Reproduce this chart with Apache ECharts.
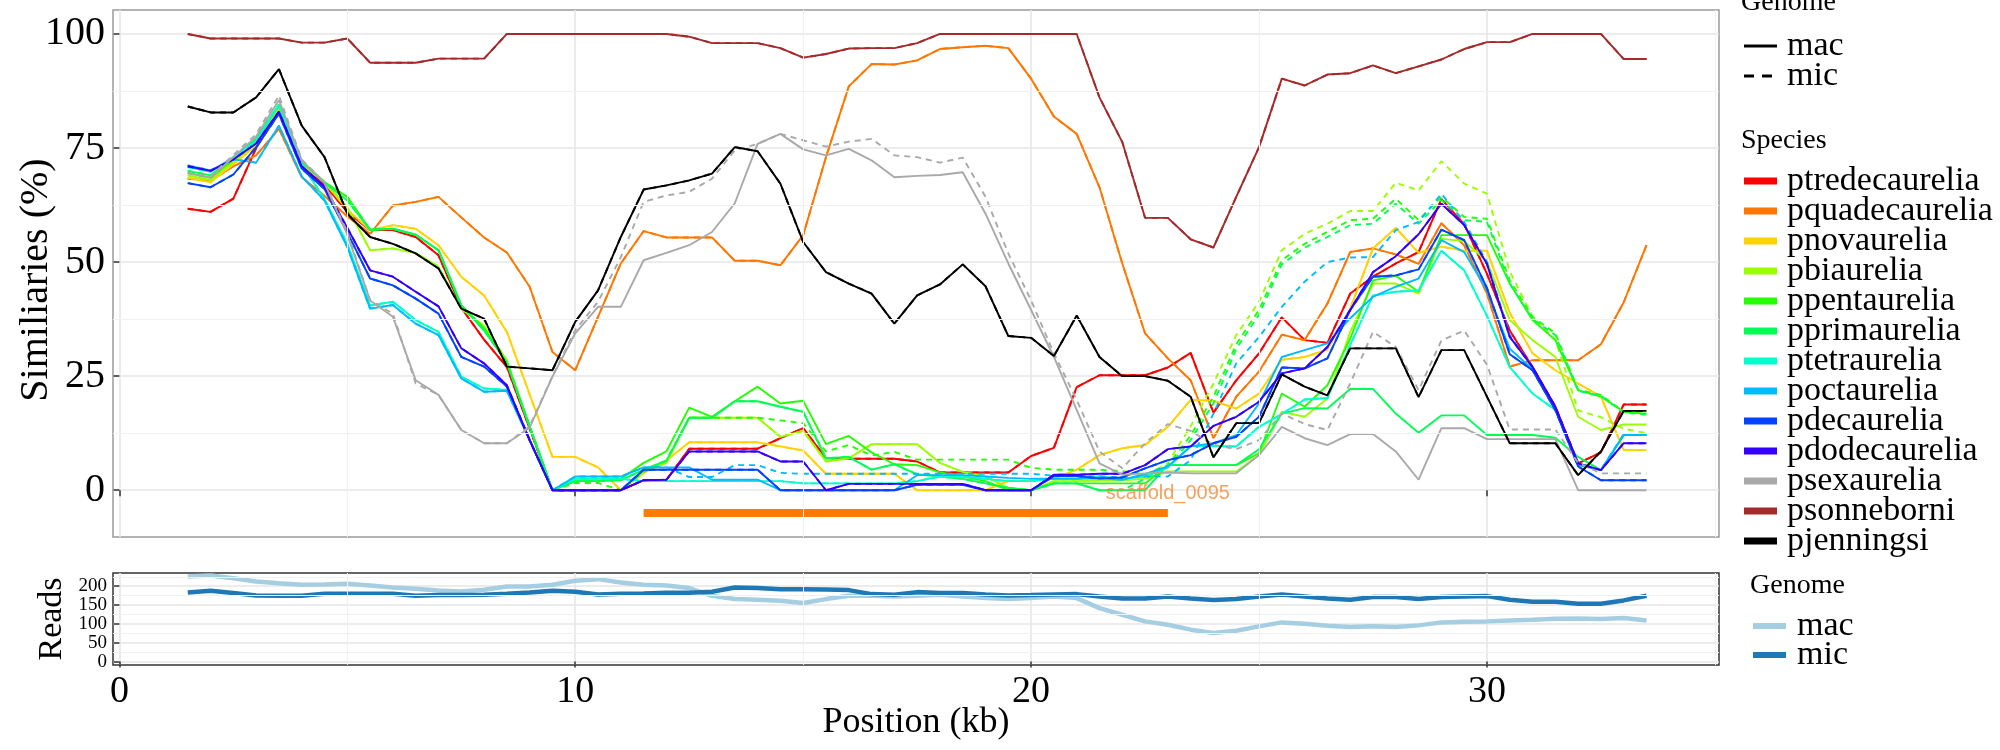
<!DOCTYPE html>
<html><head><meta charset="utf-8">
<script src="https://cdn.jsdelivr.net/npm/echarts@6/dist/echarts.min.js"></script>
<style>html,body{margin:0;padding:0;background:#fff}#c{width:2000px;height:750px}</style>
</head><body><div id="c"></div><script>
// ---------- data ----------
const positionKb = [1.5,2,2.5,3,3.5,4,4.5,5,5.5,6,6.5,7,7.5,8,8.5,9,9.5,10,10.5,11,11.5,12,12.5,13,13.5,14,14.5,15,15.5,16,16.5,17,17.5,18,18.5,19,19.5,20,20.5,21,21.5,22,22.5,23,23.5,24,24.5,25,25.5,26,26.5,27,27.5,28,28.5,29,29.5,30,30.5,31,31.5,32,32.5,33,33.5];

const ptredecaurelia_mac = [61.7,61,63.9,75,83,71.5,67,61,57,57, 55.5,51.5,40,33,27,13.5,0,0,0,0, 2.2,2.3,9.1,9.1,9.1,9.1,11.4,13.6,7,6.9, 6.9,6.9,6.3,3.9,3.9,3.9,3.9,7.5,9.3,22.6, 25.2,25.2,25.2,26.9,30.1,17,24.1,30,37.9,32.9, 32.3,43.1,46.8,49.7,52.2,63.8,58.3,47.4,35,27, 18.3,5.9,8.3,18.8,18.8];
const ptredecaurelia_mic = [61.7,61,63.9,75,83,71.5,67,61,57,57, 55.5,51.5,40,33,27,13.5,0,0,0,0, 2.2,2.3,9.1,9.1,9.1,9.1,11.4,13.6,7,6.9, 6.9,6.9,6.3,3.9,3.9,3.9,3.9,7.5,9.3,22.6, 25.2,25.2,25.2,26.9,30.1,17,24.1,30,37.9,32.9, 32.3,43.1,46.8,49.7,52.2,63.8,58.3,47.4,35,27, 18.3,5.9,8.3,18.8,18.8];

const pquadecaurelia_mac = [68.3,67.8,71,73.4,79.2,68.6,64.5,60,56.2,62.4, 63.2,64.3,59.8,55.4,52.1,44.6,30.3,26.3,38,49.7, 56.8,55.4,55.4,55.4,50.3,50.3,49.3,55.9,73,88.5, 93.4,93.3,94.2,96.7,97.1,97.4,96.9,90.2,81.9,78.1, 66.4,49.7,34.4,28.9,24.1,11.4,20.5,26,34.1,32.9, 40.9,52.2,53,51.7,49.6,58.5,53.7,43.1,27.1,28.5, 28.5,28.5,32,41.2,53.7];
const pquadecaurelia_mic = [68.3,67.8,71,73.4,79.2,68.6,64.5,60,56.2,62.4, 63.2,64.3,59.8,55.4,52.1,44.6,30.3,26.3,38,49.7, 56.8,55.4,55.4,55.4,50.3,50.3,49.3,55.9,73,88.5, 93.4,93.3,94.2,96.7,97.1,97.4,96.9,90.2,81.9,78.1, 66.4,49.7,34.4,28.9,24.1,11.4,20.5,26,34.1,32.9, 40.9,52.2,53,51.7,49.6,58.5,53.7,43.1,27.1,28.5, 28.5,28.5,32,41.2,53.7];

const pnovaurelia_mac = [68.5,67.5,71.5,75.5,83.5,71.5,67.5,61.5,57,58.1, 57.3,53.7,46.8,42.7,34.7,21,7.3,7.3,5,0, 3.8,6.5,10.5,10.5,10.5,10.5,9.6,8.7,3.6,3.6, 3.6,3.6,0,0,0,0,2,2,2.5,4.5, 7.7,9.2,9.9,13.9,19.8,19.6,17.9,21.2,28.6,29.2, 30.8,39.8,53,57.5,52,53.4,52.5,52.5,38.9,30, 26.3,23.4,20.5,8.8,8.8];
const pnovaurelia_mic = [68.5,67.5,71.5,75.5,83.5,71.5,67.5,61.5,57,58.1, 57.3,53.7,46.8,42.7,34.7,21,7.3,7.3,5,0, 3.8,6.5,10.5,10.5,10.5,10.5,9.6,8.7,3.6,3.6, 3.6,3.6,0,0,0,0,2,2,2.5,4.5, 7.7,9.2,9.9,13.9,19.8,19.6,17.9,21.2,28.6,29.2, 30.8,39.8,53,57.5,52,53.4,52.5,52.5,38.9,30, 26.3,23.4,20.5,8.8,8.8];

const pbiaurelia_mac = [69,68,72,76,84,71.5,67.5,62,52.6,53, 52,49,39.8,36,28.5,14,0,0,0,0, 4,6,15.9,15.9,15.9,15.9,11.7,13,6.3,7, 10.1,10.1,10.1,6,4,3,0.5,0,2,2, 2.2,2.2,2.5,4.1,4.1,4.1,4.1,7.7,17.2,16.1, 20.1,34.7,45.3,45.3,43.1,55.1,54.6,50.2,37.3,32.9, 29.2,16.1,13.2,14.4,14.4];
const pbiaurelia_mic = [69,68,72,76,84,71.5,67.5,62,52.6,53, 52,49,39.8,36,28.5,14,0,0,0,0, 4,6,15.9,15.9,15.9,15.9,11.7,13,6.3,7, 10.1,10.1,10.1,6,4,3,0.5,0,2,2, 2.2,2.2,3,6,14,23.4,34,41.3,52.6,56.2, 58.4,61.2,61.2,67.4,65.7,72.1,67.2,65,48,38, 33,17.5,16,13.5,12.5];

const ppentaurelia_mac = [69.5,68.5,72.5,76.5,84.5,72,67.5,64.3,57.1,57.3, 56,52.6,40.5,35.5,28,14,0,2,2,2.5, 6,8.5,18.1,16.1,19.5,22.7,19,19.6,10.1,11.9, 8.3,5.7,5.5,3.9,3,2,0,0,1.5,1.5, 1.5,1.5,1.5,5.5,5.5,5.5,5.5,8.1,21.2,18.3, 23,33.2,46,47,43.5,55.9,55.9,55.9,45.3,37.3, 32.9,21.9,20.5,17.2,16.8];
const ppentaurelia_mic = [69.5,68.5,72.5,76.5,84.5,72,67.5,64.3,57.1,57.3, 56,52.6,40.5,35.5,28,14,0,1.6,1.6,0, 4,6.5,15.9,15.9,15.9,15.9,15.3,14.7,8.5,9.9, 7.6,8.4,6.7,6.7,6.7,6.7,6.7,4.9,4.5,4.5, 4.5,4.2,3.5,5.5,12,20.5,32,39.5,50.4,54, 56.6,59.2,59.5,63.9,59.2,64.3,59.9,59.5,46,38, 34.4,22,20.9,17.2,16.8];

const pprimaurelia_mac = [70,69,73,77,84.5,72,67.5,63.5,57.1,57.3, 56,52.6,40.5,35,28,14,0,2,2,2.2, 4.5,6.5,15.9,15.9,19.5,19.5,18.3,17.2,7,7.3, 4.5,5.7,3.5,3,2.5,1.5,0.5,0,1.5,1.5, 0,0,0,5.5,5.5,5.5,5.5,9,16.8,18, 17.9,22.2,22.2,16.8,12.6,16.4,16.4,12.1,12.1,12.1, 11.5,7.3,4.4,12.1,12.1];
const pprimaurelia_mic = [70,69,73,77,84.5,72,67.5,63.5,57.1,57.3, 56,52.6,40.5,35,28,14,0,2,2,2.2, 4.5,6.5,15.9,15.9,19.5,19.5,18.3,17.2,7,7.3, 4.5,5.7,3.5,3,2.5,1.5,0.5,0,1.5,1.5, 0,0,2.5,5,11,19,31,38.5,49.5,53.2, 55.5,58.1,58.4,62.8,58.4,63.6,59.2,58.8,45.3,37.5, 34,21.8,20.7,17,16.6];

const ptetraurelia_mac = [70.8,69.8,73,76.5,84.5,71.5,63.8,54,40.5,41.3, 37.3,34.7,24.9,22.3,22,11,0,2.5,2.5,2.5, 2,2,2,2,2,2,2,1.5,1.5,1.5, 1.5,1.5,2,3,3,2.5,2,2,2.5,2.5, 3,2.5,3,5,9.7,9.7,9.6,13.9,16.7,19.9, 20.2,31.8,42.7,43.5,43.8,52.5,48.2,38.2,27,21.2, 17.6,5.9,4.4,12.1,12.1];
const ptetraurelia_mic = [70.8,69.8,73,76.5,84.5,71.5,63.8,54,40.5,41.3, 37.3,34.7,24.9,22.3,22,11,0,2.5,2.5,2.5, 2,2,2,2,2,2,2,1.5,1.5,1.5, 1.5,1.5,2,3,3,2.5,2,2,2.5,2.5, 3,2.5,3,5,9.7,9.7,9.6,13.9,16.7,19.9, 20.2,31.8,42.7,43.5,43.8,52.5,48.2,38.2,27,21.2, 17.6,5.9,4.4,12.1,12.1];

const poctaurelia_mac = [71.2,70.1,72.5,71.8,79.9,68.8,63.5,53.3,39.8,40.6, 36.5,34,24.5,21.6,21.8,11,0,3,3,3, 5,5,5,2.3,2.3,2.3,0,0,0,0, 0,0,3.3,3.3,3.3,3,2.7,2.5,2.5,2.5, 2.6,2.3,3.5,5.2,9.6,10.3,12.1,19,29.2,30.7, 32.2,37.7,42.4,44.6,46.4,54.8,52.2,43.8,31,26.5, 17.6,5.5,4.4,12.1,12.1];
const poctaurelia_mic = [71.2,70.1,72.5,71.8,79.9,68.8,63.5,53.3,39.8,40.6, 36.5,34,24.5,21.6,21.8,11,0,3,3,3, 5,5,2.9,2.9,5.5,5.5,3.8,3.6,3.6,3.6, 3.6,3.6,3.6,3.6,3.6,3.6,3.6,3.6,3.2,3, 3,2.8,3,3,6.6,16.8,27.8,33.6,40.2,45.7, 50,51,51.1,57,58.8,65,58.8,50,34,27, 18,5.5,4.5,12.3,12.3];

const pdecaurelia_mac = [67.3,66.4,69.2,75.2,82.5,70.5,66,56.5,46.4,44.9, 42,38.7,29.2,27.1,22.7,11,0,0,0,0, 4.5,4.5,4.5,4.5,4.5,4.5,0,0,0,0, 0,0,1.2,1.2,1.2,0,0,0,3.1,3.1, 2.6,2.8,4.8,6.6,7.7,10.3,11.7,16.1,26.9,26.7, 28.9,39.5,46.8,47.1,48.4,57.1,54.8,44.3,29.8,26.3, 17.6,5.2,2.2,2.2,2.2];
const pdecaurelia_mic = [67.3,66.4,69.2,75.2,82.5,70.5,66,56.5,46.4,44.9, 42,38.7,29.2,27.1,22.7,11,0,0,0,0, 4.5,4.5,4.5,4.5,4.5,4.5,0,0,0,0, 0,0,1.2,1.2,1.2,0,0,0,3.1,3.1, 2.6,2.8,4.8,6.6,7.7,10.3,11.7,16.1,26.9,26.7, 28.9,39.5,46.8,47.1,48.4,57.1,54.8,44.3,29.8,26.3, 17.6,5.2,2.2,2.2,2.2];

const pdodecaurelia_mac = [71,70,72.5,76,83,71,66.5,57.5,48.2,46.8, 43.5,40.3,31.1,27.8,23,11,0,0,0,0, 2.2,2.3,8.5,8.5,8.5,8.5,6.3,6.3,0,1.4, 1.4,1.4,1.4,1.4,1.4,0,0,0,3.4,3.4, 3.6,3.6,5.5,9,9.6,14.1,16.1,19.4,25.6,26.7, 31.4,39.5,47.8,51.3,56.1,62.8,58.1,49.6,33.6,27, 18.3,5.9,4.4,10.3,10.3];
const pdodecaurelia_mic = [71,70,72.5,76,83,71,66.5,57.5,48.2,46.8, 43.5,40.3,31.1,27.8,23,11,0,0,0,0, 2.2,2.3,8.5,8.5,8.5,8.5,6.3,6.3,0,1.4, 1.4,1.4,1.4,1.4,1.4,0,0,0,3.4,3.4, 3.6,3.6,5.5,9,9.6,14.1,16.1,19.4,25.6,26.7, 31.4,39.5,47.8,51.3,56.1,62.8,58.1,49.6,33.6,27, 18.3,5.9,4.4,10.3,10.3];

const psexaurelia_mac = [69.5,68.5,73,77.5,85.5,72.3,67.3,56,41.6,38, 24.1,20.9,13.2,10.3,10.3,13.7,24.9,34.4,40.2,40.2, 50.4,52,53.7,56.6,62.9,75.9,78.1,74.7,73.4,74.8, 72.3,68.6,68.9,69.1,69.7,60.6,49.7,39.5,29.2,17.6, 5.9,3.4,3.7,3.9,3.7,3.7,3.7,7.7,13.9,11.4, 9.9,12.3,12.3,8.5,2.3,13.6,13.6,11.2,11.2,11.2, 11.2,0,0,0,0];
const psexaurelia_mic = [69.5,68.8,73.5,78,86.5,72.5,67.5,56.5,41.6,38.7, 23.4,20.9,13.2,10.3,10.3,14,25,35.1,41.3,51.1, 63.2,64.6,65.4,68.3,74.5,75.9,78.1,76.7,75.3,76.4, 77,73.4,73,71.8,72.9,64.3,51.9,41.6,30,19.8, 8.5,4.8,10.3,14.5,13,10,9,11,16.8,14.5, 13.2,23.4,34.7,31.4,21.9,32.8,35,27.5,13.3,13.3, 13.3,6,3.7,3.7,3.7];

const psonneborni_mac = [100,99,99,99,99,98.1,98.1,99,93.7,93.7, 93.7,94.6,94.6,94.6,100,100,100,100,100,100, 100,100,99.4,98,98,98,96.9,94.8,95.6,96.8, 96.9,96.9,98,100,100,100,100,100,100,100, 86.1,76.3,59.7,59.7,55,53.2,64.3,75.2,90.2,88.7, 91.1,91.4,93.1,91.4,92.9,94.4,96.7,98.2,98.2,100, 100,100,100,94.5,94.5];
const psonneborni_mic = [100,99,99,99,99,98.1,98.1,99,93.7,93.7, 93.7,94.6,94.6,94.6,100,100,100,100,100,100, 100,100,99.4,98,98,98,96.9,94.8,95.6,96.8, 96.9,96.9,98,100,100,100,100,100,100,100, 86.1,76.3,59.7,59.7,55,53.2,64.3,75.2,90.2,88.7, 91.1,91.4,93.1,91.4,92.9,94.4,96.7,98.2,98.2,100, 100,100,100,94.5,94.5];

const pjenningsi_mac = [84.1,82.8,82.8,86.1,92.3,79.9,73,60.6,55.5,54, 51.9,48.6,39.8,37.6,27.1,26.7,26.3,36.9,43.8,55.5, 65.9,66.8,67.9,69.4,75.2,74.3,67.2,54.4,47.8,45.3, 43.1,36.5,42.7,45.1,49.5,44.7,33.8,33.4,29.4,38.3, 29.2,25,25,24,20.5,7.2,14.7,14.7,25.4,22.7, 20.8,31.1,31.1,31.1,20.4,30.7,30.7,20.5,10.3,10.3, 10.3,3.3,8.5,17.4,17.4];
const pjenningsi_mic = [84.1,82.8,82.8,86.1,92.3,79.9,73,60.6,55.5,54, 51.9,48.6,39.8,37.6,27.1,26.7,26.3,36.9,43.8,55.5, 65.9,66.8,67.9,69.4,75.2,74.3,67.2,54.4,47.8,45.3, 43.1,36.5,42.7,45.1,49.5,44.7,33.8,33.4,29.4,38.3, 29.2,25,25,24,20.5,7.2,14.7,14.7,25.4,22.7, 20.8,31.1,31.1,31.1,20.4,30.7,30.7,20.5,10.3,10.3, 10.3,3.3,8.5,17.4,17.4];

const reads_mac = [225.7,228.4,221.3,212.5,208,203.7,204.6,206.3,202,196.6, 193,188.7,186,190.5,199.3,199.3,203.7,214.3,218.7,210, 203.7,202,195,174.6,165.8,164,161.4,155.2,165.8,174.6, 174.6,172.8,174.6,177.2,172.8,168.4,165.8,168.4,172.8,168.4, 142,124.3,106.7,97.9,84.7,75.8,82,93.5,104,100.5, 95.2,91.7,93.5,91.7,96.1,104,105.8,106.7,109.3,111.1, 113.8,114.6,112.9,115.5,109.3];
const reads_mic = [183.4,187.8,181.7,175.5,174.6,174.6,179.9,179.9,179.9,179.9, 174.6,176.4,176.4,177.2,179.9,183.4,187.8,185.2,178.1,179.9, 180.8,182.5,182.5,185.2,196.6,194.9,192.2,192.2,191.4,189.6, 179,177.2,184.3,181.7,181.7,178.1,175.5,176.4,178.1,179, 172.8,167.5,167.5,172.8,167.5,163.1,165.8,172.8,178.1,172.8, 167.5,164,171.1,171.1,165.8,171.1,172.8,173.7,164,158.7, 158.7,153.4,153.4,162.3,174.6];

const scaffoldStartKb = 11.5, scaffoldEndKb = 23.0, scaffoldY = -5;
const scaffoldName = 'scaffold_0095';
const xTicks = [0, 10, 20, 30];
const xMinorTicks = [5, 15, 25, 35];
const simTicks = [0, 25, 50, 75, 100];
const simMinorTicks = [12.5, 37.5, 62.5, 87.5];
const readsTicks = [0, 50, 100, 150, 200];
const readsMinorTicks = [25, 75, 125, 175, 225];

const speciesNames = ['ptredecaurelia','pquadecaurelia','pnovaurelia','pbiaurelia','ppentaurelia','pprimaurelia','ptetraurelia','poctaurelia','pdecaurelia','pdodecaurelia','psexaurelia','psonneborni','pjenningsi'];
const speciesMac = [ptredecaurelia_mac,pquadecaurelia_mac,pnovaurelia_mac,pbiaurelia_mac,ppentaurelia_mac,pprimaurelia_mac,ptetraurelia_mac,poctaurelia_mac,pdecaurelia_mac,pdodecaurelia_mac,psexaurelia_mac,psonneborni_mac,pjenningsi_mac];
const speciesMic = [ptredecaurelia_mic,pquadecaurelia_mic,pnovaurelia_mic,pbiaurelia_mic,ppentaurelia_mic,pprimaurelia_mic,ptetraurelia_mic,poctaurelia_mic,pdecaurelia_mic,pdodecaurelia_mic,psexaurelia_mic,psonneborni_mic,pjenningsi_mic];

// ---------- styles ----------
const speciesColors = ['#FF0000','#FF7700','#FFD200','#99FF00','#22FF00','#00FF55','#00FFCC','#00BBFF','#0044FF','#3300FF','#A9A9A9','#A52A2A','#000000'];
const readsColors = {mac:'#A6CEE3', mic:'#1F78B4'};
const SERIF = "'Liberation Serif','DejaVu Serif',serif";
const SANS = "'Liberation Sans','DejaVu Sans',sans-serif";

const chart = echarts.init(document.getElementById('c'));

const pairs = arr => positionKb.map((x, i) => [x, arr[i]]);
const series = [];

// minor grid lines (through axis scales)
series.push({type:'line', xAxisIndex:0, yAxisIndex:0, data:[], z:1, silent:true,
  markLine:{silent:true, symbol:'none', animation:false, label:{show:false},
    lineStyle:{color:'#f1f1f1', width:1, type:'solid'},
    data: xMinorTicks.map(v=>({xAxis:v})).concat(simMinorTicks.map(v=>({yAxis:v})))}});
series.push({type:'line', xAxisIndex:1, yAxisIndex:1, data:[], z:1, silent:true,
  markLine:{silent:true, symbol:'none', animation:false, label:{show:false},
    lineStyle:{color:'#f1f1f1', width:1, type:'solid'},
    data: xMinorTicks.map(v=>({xAxis:v})).concat(readsMinorTicks.map(v=>({yAxis:v})))}});

speciesNames.forEach((name, k) => {
  series.push({name: name, type:'line', xAxisIndex:0, yAxisIndex:0, data: pairs(speciesMac[k]),
    symbol:'none', showSymbol:false, silent:true, z:3,
    lineStyle:{color: speciesColors[k], width:1.9, type:'solid'}});
  series.push({name: name, type:'line', xAxisIndex:0, yAxisIndex:0, data: pairs(speciesMic[k]),
    symbol:'none', showSymbol:false, silent:true, z:3,
    lineStyle:{color: speciesColors[k], width:1.9, type:[6,5]}});
});

// scaffold bar + label
series.push({type:'line', xAxisIndex:0, yAxisIndex:0, data:[[scaffoldStartKb, scaffoldY],[scaffoldEndKb, scaffoldY]],
  symbol:'none', silent:true, z:4, lineStyle:{color:'#FF7A00', width:8, cap:'butt'}});
series.push({type:'scatter', xAxisIndex:0, yAxisIndex:0, data:[[scaffoldEndKb, -0.7]], symbolSize:0, silent:true, z:5,
  label:{show:true, position:'inside', formatter: scaffoldName, fontSize:20, fontFamily:SANS, color:'#F28B33'}});

// reads
series.push({name:'mac', type:'line', xAxisIndex:1, yAxisIndex:1, data: pairs(reads_mac), symbol:'none', silent:true, z:3,
  lineStyle:{color: readsColors.mac, width:4.5}});
series.push({name:'mic', type:'line', xAxisIndex:1, yAxisIndex:1, data: pairs(reads_mic), symbol:'none', silent:true, z:3,
  lineStyle:{color: readsColors.mic, width:4.5}});

// ---------- legend (graphic) ----------
const g = [];
const txt = (x, y, text, size, extra) => Object.assign({type:'text', x:x, y:y, silent:true,
  style:{text:text, fontSize:size, fontFamily:SERIF, fill:'#000', align:'left', verticalAlign:'middle'}}, extra || {});
g.push(txt(1741, 3, 'Genome', 28));
g.push({type:'line', silent:true, shape:{x1:1744,y1:46,x2:1777,y2:46}, style:{stroke:'#000', lineWidth:3}});
g.push(txt(1787, 46, 'mac', 34));
g.push({type:'line', silent:true, shape:{x1:1744,y1:76,x2:1777,y2:76}, style:{stroke:'#000', lineWidth:3, lineDash:[10,8]}});
g.push(txt(1787, 76, 'mic', 34));
g.push(txt(1741, 141, 'Species', 28));
speciesNames.forEach((name, k) => {
  const y = 181 + 30 * k;
  g.push({type:'rect', silent:true, shape:{x:1744, y:y-3.5, width:33, height:7}, style:{fill: speciesColors[k]}});
  g.push(txt(1787, y, name, 34));
});
g.push(txt(1750, 586, 'Genome', 28));
g.push({type:'line', silent:true, shape:{x1:1753,y1:626,x2:1786,y2:626}, style:{stroke:readsColors.mac, lineWidth:6}});
g.push(txt(1797, 626, 'mac', 34));
g.push({type:'line', silent:true, shape:{x1:1753,y1:655,x2:1786,y2:655}, style:{stroke:readsColors.mic, lineWidth:6}});
g.push(txt(1797, 655, 'mic', 34));
// axis titles
g.push({type:'text', x:36, y:280, rotation:Math.PI/2, silent:true,
  style:{text:'Similiaries (%)', fontSize:40, fontFamily:SERIF, fill:'#000', align:'center', verticalAlign:'middle'}});
g.push({type:'text', x:52, y:619, rotation:Math.PI/2, silent:true,
  style:{text:'Reads', fontSize:34, fontFamily:SERIF, fill:'#000', align:'center', verticalAlign:'middle'}});
g.push({type:'text', x:916, y:723, silent:true,
  style:{text:'Position (kb)', fontSize:36, fontFamily:SERIF, fill:'#000', align:'center', verticalAlign:'middle'}});

const majorGrid = {show:true, lineStyle:{color:'#e6e6e6', width:1.6}};
const tickStyle = {show:true, length:6, lineStyle:{color:'#333', width:1.5}};

chart.setOption({
  animation:false,
  backgroundColor:'#ffffff',
  grid:[
    {left:113, top:10, width:1606, height:527, show:true, borderColor:'#9a9a9a', borderWidth:1.5},
    {left:113, top:573, width:1606, height:92, show:true, borderColor:'#333333', borderWidth:1.5}
  ],
  xAxis:[
    {type:'value', gridIndex:0, min:-0.14, max:35.09, axisLine:{show:false},
      axisTick:Object.assign({customValues:xTicks}, tickStyle),
      axisLabel:{show:false, customValues:xTicks}, splitLine:majorGrid},
    {type:'value', gridIndex:1, min:-0.14, max:35.09, axisLine:{show:false},
      axisTick:Object.assign({customValues:xTicks}, tickStyle),
      axisLabel:{show:true, customValues:xTicks, fontSize:38, fontFamily:SERIF, color:'#000', margin:8},
      splitLine:majorGrid}
  ],
  yAxis:[
    {type:'value', gridIndex:0, min:-10.25, max:105.25, axisLine:{show:false},
      axisTick:Object.assign({customValues:simTicks}, tickStyle),
      axisLabel:{show:true, customValues:simTicks, fontSize:40, fontFamily:SERIF, color:'#000', margin:8},
      splitLine:majorGrid},
    {type:'value', gridIndex:1, min:-9, max:235, axisLine:{show:false},
      axisTick:Object.assign({customValues:readsTicks}, tickStyle),
      axisLabel:{show:true, customValues:readsTicks, fontSize:19, fontFamily:SERIF, color:'#000', margin:6},
      splitLine:majorGrid}
  ],
  series: series,
  graphic: g
});
</script></body></html>
